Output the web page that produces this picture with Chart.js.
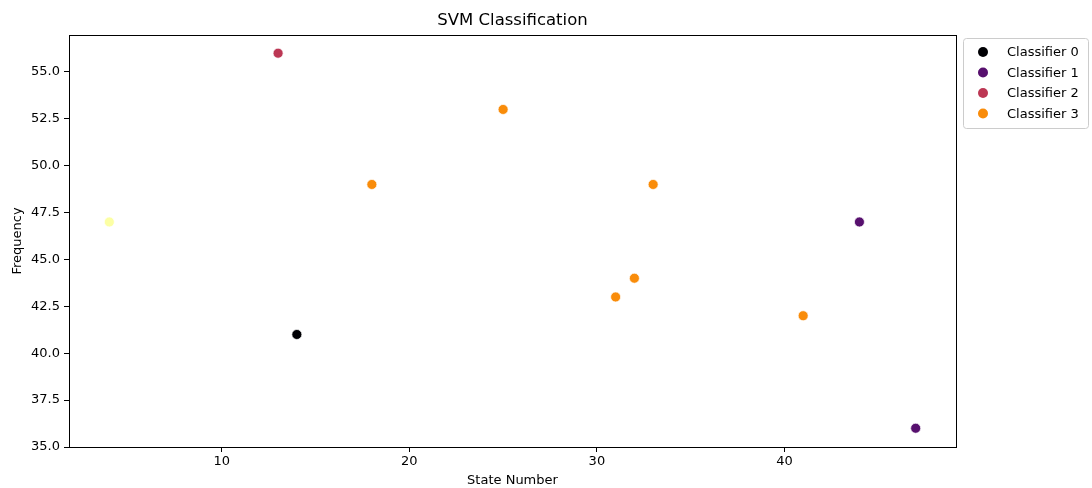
<!DOCTYPE html>
<html>
<head>
<meta charset="utf-8">
<script src="https://cdn.jsdelivr.net/npm/chart.js@4/dist/chart.umd.min.js"></script>
<style>
html,body{margin:0;padding:0;background:#fff;}
#wrap{width:1092px;height:488px;position:relative;}
</style>
</head>
<body>
<div id="wrap"><canvas id="c" width="1092" height="488"></canvas></div>
<script>
// ---- data ----
const classLabels = ["Classifier 0", "Classifier 1", "Classifier 2", "Classifier 3", "Classifier 4"];
const classColors = ["#000004", "#57106e", "#bc3754", "#f98c0a", "#fcffa4"];
const legendClasses = [0, 1, 2, 3];
const stateNumbers = [4, 13, 14, 18, 25, 31, 32, 33, 41, 44, 47];
const frequencies  = [47, 56, 41, 49, 53, 43, 44, 49, 42, 47, 36];
const classOf      = [4, 2, 0, 3, 3, 3, 3, 3, 3, 1, 1];
const xTicks = [10, 20, 30, 40];
const yTicks = [35, 37.5, 40, 42.5, 45, 47.5, 50, 52.5, 55];
const chartTitle = 'SVM Classification';

const FONT = "'DejaVu Sans', sans-serif";
Chart.defaults.font.family = FONT;
Chart.defaults.color = '#000';

const datasets = classLabels.map((lab, ci) => {
  const pts = [];
  stateNumbers.forEach((x, i) => { if (classOf[i] === ci) pts.push({x: x, y: frequencies[i]}); });
  return {
    label: lab,
    data: pts,
    backgroundColor: classColors[ci],
    borderColor: '#ffffff',
    borderWidth: 0.7,
    pointRadius: 5,
    pointHoverRadius: 5
  };
});

const framePlugin = {
  id: 'frame',
  afterDraw(chart) {
    const ctx = chart.ctx, a = chart.chartArea;
    ctx.save();
    ctx.strokeStyle = '#000';
    ctx.lineWidth = 1;
    ctx.strokeRect(Math.round(a.left) + 0.5, Math.round(a.top) + 0.5,
                   Math.round(a.right - a.left), Math.round(a.bottom - a.top));
    // title centred over plot area
    ctx.fillStyle = '#000';
    ctx.font = '16.5px ' + FONT;
    ctx.textAlign = 'center';
    ctx.textBaseline = 'middle';
    ctx.fillText(chartTitle, (a.left + a.right) / 2, 21);
    // legend
    const lx = 963, ly = 38, lw = 125, lh = 90, r = 3;
    ctx.globalAlpha = 0.8;
    ctx.fillStyle = '#fff';
    ctx.beginPath();
    ctx.roundRect(lx + 0.5, ly + 0.5, lw, lh, r);
    ctx.fill();
    ctx.globalAlpha = 1;
    ctx.strokeStyle = '#cccccc';
    ctx.stroke();
    ctx.font = '13px ' + FONT;
    ctx.textBaseline = 'middle';
    ctx.textAlign = 'left';
    legendClasses.forEach((ci, k) => {
      const yy = ly + 14 + k * 20.5;
      ctx.beginPath();
      ctx.arc(983, yy, 5, 0, Math.PI * 2);
      ctx.fillStyle = classColors[ci];
      ctx.fill();
      ctx.fillStyle = '#000';
      ctx.fillText(classLabels[ci], 1007, yy + 1);
    });
    ctx.restore();
  }
};

new Chart(document.getElementById('c'), {
  type: 'scatter',
  data: { datasets: datasets },
  plugins: [framePlugin],
  options: {
    responsive: false,
    animation: false,
    devicePixelRatio: 1,
    layout: { padding: { left: 0, right: 136, top: 35, bottom: 0 } },
    plugins: {
      legend: { display: false },
      tooltip: { enabled: false },
      title: { display: false }
    },
    scales: {
      x: {
        type: 'linear',
        min: 1.85, max: 49.15,
        afterBuildTicks(s) { s.ticks = xTicks.map(v => ({ value: v })); },
        afterFit(s) { s.height = 41; },
        ticks: { font: { size: 13 }, color: '#000', padding: 2, maxRotation: 0,
                 callback: v => String(v) },
        grid: { drawOnChartArea: false, drawTicks: true, tickLength: 5, color: '#000' },
        border: { display: true, color: '#000' },
        title: { display: true, text: 'State Number', font: { size: 13 }, color: '#000', padding: { top: 0, bottom: 0 } }
      },
      y: {
        type: 'linear',
        min: 35, max: 56.97,
        afterBuildTicks(s) { s.ticks = yTicks.map(v => ({ value: v })); },
        afterFit(s) { s.width = 69; },
        ticks: { font: { size: 13 }, color: '#000', padding: 4,
                 callback: v => Number(v).toFixed(1) },
        grid: { drawOnChartArea: false, drawTicks: true, tickLength: 5, color: '#000' },
        border: { display: true, color: '#000' },
        title: { display: true, text: 'Frequency', font: { size: 13 }, color: '#000', padding: { top: 10, bottom: 2 } }
      }
    }
  }
});
</script>
</body>
</html>
